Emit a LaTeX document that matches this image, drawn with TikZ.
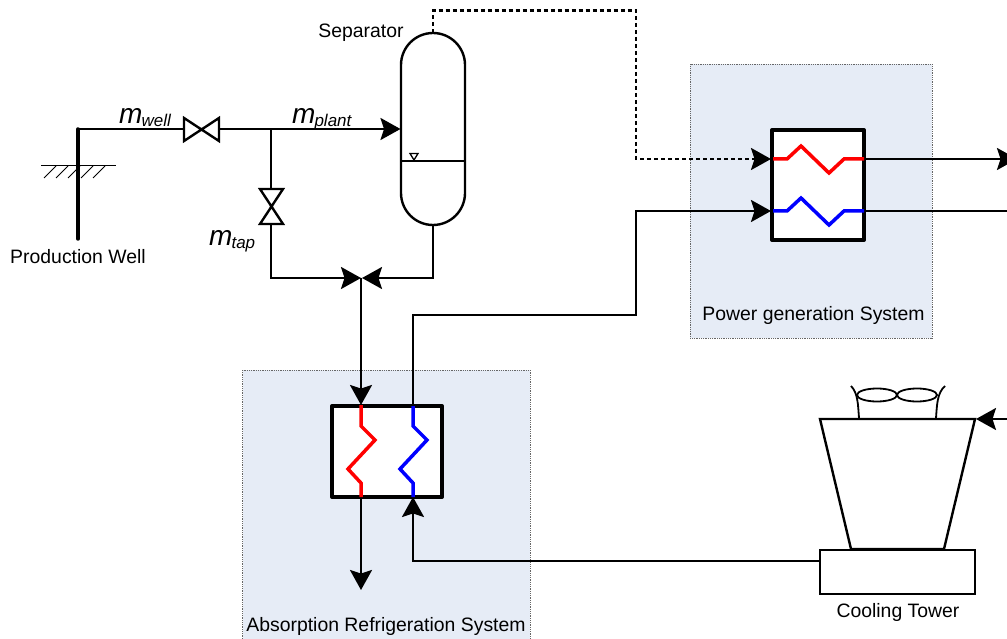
\documentclass[tikz,border=0pt]{standalone}
\usepackage{fontspec}
\setmainfont{Liberation Sans}
\usetikzlibrary{arrows.meta}
\newcommand{\lbl}{\fontsize{19.4}{21}\selectfont}
\newcommand{\flow}[2]{{\fontsize{28}{28}\selectfont\itshape #1}{\fontsize{17}{17}\selectfont\itshape\raisebox{-3pt}{\kern-1pt #2}}}
\tikzset{
  x=1pt,y=-1pt,
  pipe/.style={line width=2.4pt,line join=miter},
  tip/.style={-{Stealth[length=20pt,width=22pt,inset=3.5pt]}},
  flowpipe/.style={pipe,tip},
  vapour/.style={pipe,dash pattern=on 4pt off 3pt},
  sysbox/.style={fill=sysfill,draw=gray!80!black,line width=0.8pt,densely dotted},
  hx/.style={draw=black,fill=white,line width=4pt,line join=round},
  hotcoil/.style={draw=red,line width=3.5pt,line join=miter},
  coldcoil/.style={draw=blue,line width=3.5pt,line join=miter},
  txt/.style={font=\lbl,inner sep=0pt,text=black,anchor=base},
  flowtxt/.style={inner sep=0pt,anchor=base west,text=black},
  valve/.style={pipe,fill=white}
}
\definecolor{sysfill}{HTML}{E6ECF6}
\begin{document}
\begin{tikzpicture}
\useasboundingbox (0,0) rectangle (1007,639);
\clip (0,0) rectangle (1007,639);
% system boxes
\path[sysbox] (690,64.5) rectangle (932,338);
\path[sysbox] (242.5,370) rectangle (530,645);
% named points
\coordinate (wellTop) at (78,129);
\coordinate (wellEnd) at (78,239);
\coordinate (v1L) at (184,129);
\coordinate (v1R) at (219,129);
\coordinate (tee) at (271,129);
\coordinate (sepIn) at (400.5,129);
\coordinate (v2T) at (271,189);
\coordinate (v2B) at (271,224);
\coordinate (tapCorner) at (271,278);
\coordinate (mix) at (361,278);
\coordinate (mixB) at (362,278);
\coordinate (sepTop) at (433,33);
\coordinate (sepBot) at (433,225);
\coordinate (sepCorner) at (433,278);
\coordinate (pgHotIn) at (771,159);
\coordinate (pgHotOut) at (864,159);
\coordinate (pgColdIn) at (771,211);
\coordinate (pgColdOut) at (864,211);
\coordinate (arHotIn) at (361,405);
\coordinate (arHotOut) at (361,497);
\coordinate (arColdIn) at (413,497);
\coordinate (arColdOut) at (413,406);
\coordinate (hotEnd) at (1017,159);
\coordinate (coldEnd) at (1007,211);
\coordinate (towerIn) at (976,419);
\coordinate (towerFrom) at (1007,419);
\coordinate (basinOut) at (820,561);
\coordinate (arDrain) at (361,590);
% ground and well
\draw[line width=1.5pt] (41,165.5) -- (116,165.5);
\foreach \hx in {44,56,68,81,93} \draw[line width=0.8pt] (\hx,178) -- (\hx+12,166);
\draw[line width=3.5pt,line cap=round] (wellTop) -- (wellEnd);
% piping
\draw[pipe] (wellTop) -- (v1L);
\draw[pipe] (v1R) -- (tee);
\draw[flowpipe] (tee) -- (sepIn);
\draw[pipe] (tee) -- (v2T);
\draw[flowpipe] (v2B) -- (tapCorner) -- (mix);
\draw[flowpipe] (sepBot) -- (sepCorner) -- (mixB);
\draw[flowpipe] (mix) -- (arHotIn);
% valves
\draw[valve] (184,118) -- (184,141) -- (219,118) -- (219,141) -- cycle;
\draw[valve] (260,189) -- (283,189) -- (260,224) -- (283,224) -- cycle;
% separator
\draw[pipe] (401,65) arc[start angle=180,end angle=360,radius=32] -- (465,193) arc[start angle=0,end angle=180,radius=32] -- cycle;
\draw[pipe] (401,161) -- (465,161);
\draw[line width=1.3pt] (410,153.5) -- (418,153.5) -- (414,160) -- cycle;
% dashed and process lines
\draw[vapour] (sepTop) -- (433,10.5) -- (636,10.5) -- (636,159) -- (753,159);
\draw[flowpipe] (753,159) -- (pgHotIn);
\draw[flowpipe] (arColdOut) -- (413,315) -- (636,315) -- (636,211) -- (pgColdIn);
\draw[flowpipe] (basinOut) -- (413,561) -- (arColdIn);
\draw[flowpipe] (arHotOut) -- (arDrain);
\draw[flowpipe] (pgHotOut) -- (hotEnd);
\draw[pipe] (pgColdOut) -- (coldEnd);
\draw[flowpipe] (towerFrom) -- (towerIn);
% power generation exchanger
\node[hx,minimum width=92pt,minimum height=110pt,inner sep=0pt] (pgHX) at (818,185) {};
\draw[hotcoil] (pgHotIn) ++(2,0) -- (787,159) -- (801,146) -- (829,173) -- (844,159) -- (pgHotOut);
\draw[coldcoil] (pgColdIn) ++(2,0) -- (787,211) -- (801,198) -- (829,225) -- (844,211) -- (pgColdOut);
% absorption exchanger
\node[hx,minimum width=110pt,minimum height=91pt,inner sep=0pt] (arHX) at (387,451.5) {};
\draw[hotcoil] (arHotIn) -- (361,426) -- (375,440) -- (348,469) -- (361,483) -- (arHotOut);
\draw[coldcoil] (arColdOut) -- (413,426) -- (427,440) -- (400,469) -- (413,483) -- (arColdIn);
% cooling tower
\draw[pipe] (820,419) -- (975,419) -- (944,549) -- (851,549) -- cycle;
\draw[line width=2.4pt] (820,550) rectangle (975,594);
\draw[line width=1.8pt] (877,395) ellipse[x radius=20,y radius=6.5];
\draw[line width=1.8pt] (917,395) ellipse[x radius=20,y radius=6.5];
\draw[line width=1.8pt] (859,418) .. controls (858,405) and (858,393) .. (851,386);
\draw[line width=1.8pt] (936,418) .. controls (937,405) and (937,393) .. (945,386);
% labels
\node[txt] (lWell) at (78,263) {Production Well};
\node[txt] (lSep) at (361,38) {Separator};
\node[txt] (lPG) at (813.5,320.5) {Power generation System};
\node[txt] (lAR) at (386,631) {Absorption Refrigeration System};
\node[txt] (lCT) at (898,617) {Cooling Tower};
\node[flowtxt] (mWell) at (119,123.5) {\flow{m}{well}};
\node[flowtxt] (mPlant) at (292,123.5) {\flow{m}{plant}};
\node[flowtxt] (mTap) at (209,245.5) {\flow{m}{tap}};
\end{tikzpicture}
\end{document}
